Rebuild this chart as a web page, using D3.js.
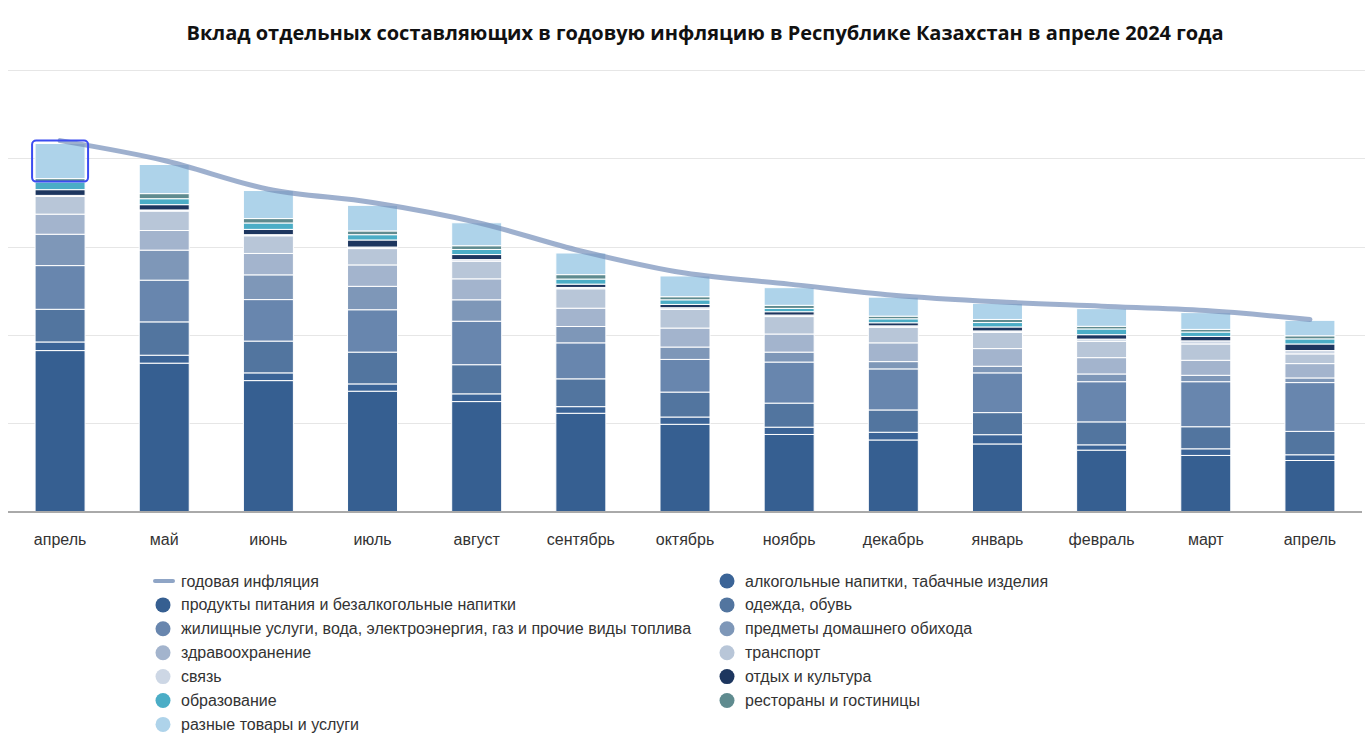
<!DOCTYPE html>
<html><head><meta charset="utf-8">
<script src="https://cdn.jsdelivr.net/npm/d3@7"></script>
<style>body{margin:0;background:#fff;}svg{display:block;}</style>
</head><body>
<svg id="c" width="1367" height="747"></svg>
<script>
const months = ["апрель","май","июнь","июль","август","сентябрь","октябрь","ноябрь","декабрь","январь","февраль","март","апрель "];
const inflation = [16.8,15.9,14.6,14.0,13.1,11.8,10.8,10.3,9.8,9.5,9.3,9.1,8.7];
const yTicks = [0,4,8,12,16,20];

const food        = [7.29,6.72,5.93,5.45,4.98,4.45,3.95,3.49,3.24,3.06,2.78,2.54,2.31];
const alcohol     = [0.39,0.36,0.35,0.33,0.35,0.30,0.33,0.33,0.35,0.42,0.24,0.30,0.26];
const clothing    = [1.48,1.51,1.44,1.44,1.32,1.26,1.13,1.09,1.01,1.00,1.04,1.00,1.06];
const housing     = [1.98,1.89,1.88,1.92,1.97,1.63,1.48,1.86,1.86,1.80,1.82,2.04,2.21];
const household   = [1.42,1.36,1.12,1.06,0.97,0.74,0.56,0.45,0.33,0.30,0.35,0.29,0.21];
const health      = [0.91,0.89,0.97,0.97,0.95,0.83,0.86,0.82,0.85,0.80,0.74,0.68,0.65];
const transport   = [0.80,0.88,0.80,0.74,0.80,0.88,0.85,0.79,0.71,0.74,0.74,0.74,0.44];
const communication=[0.05,0.05,0.05,0.07,0.07,0.06,0.07,0.07,0.06,0.06,0.10,0.14,0.15];
const recreation  = [0.26,0.24,0.24,0.32,0.23,0.15,0.15,0.15,0.14,0.18,0.20,0.20,0.30];
const education   = [0.35,0.27,0.29,0.24,0.23,0.23,0.21,0.15,0.18,0.20,0.26,0.20,0.23];
const restaurants = [0.15,0.23,0.20,0.17,0.17,0.20,0.14,0.14,0.12,0.14,0.12,0.12,0.14];
const misc        = [1.59,1.32,1.27,1.16,1.04,0.98,0.94,0.80,0.86,0.73,0.80,0.76,0.70];

const seriesNames = ["продукты питания и безалкогольные напитки","алкогольные напитки, табачные изделия","одежда, обувь","жилищные услуги, вода, электроэнергия, газ и прочие виды топлива","предметы домашнего обихода","здравоохранение","транспорт","связь","отдых и культура","образование","рестораны и гостиницы","разные товары и услуги"];
const seriesColors = ["#365f91","#3b6497","#52759f","#6886ae","#7e97b8","#a3b4cd","#b8c6d8","#cdd7e5","#1d365f","#4badc6","#5f8b8f","#aed3ea"];
const seriesValues = [food,alcohol,clothing,housing,household,health,transport,communication,recreation,education,restaurants,misc];
const lineName = "годовая инфляция";
const title = "Вклад отдельных составляющих в годовую инфляцию в Республике Казахстан в апреле 2024 года";

const svg = d3.select("#c");
const FONT = "'Liberation Sans', Arial, sans-serif";

const x = d3.scaleBand().domain(months).range([8,1362]).paddingInner(0.52).paddingOuter(0.26);
const y = d3.scaleLinear().domain([0,20]).range([511.5,70]);

// title
svg.append("text").attr("x",705).attr("y",40).attr("text-anchor","middle")
  .attr("font-family","'Open Sans', sans-serif").attr("font-weight",700).attr("font-size",20)
  .attr("fill","#111").text(title);

// gridlines
svg.append("g").selectAll("line").data(yTicks.filter(d=>d>0)).join("line")
  .attr("x1",8).attr("x2",1365).attr("y1",d=>Math.round(y(d))+0.5).attr("y2",d=>Math.round(y(d))+0.5)
  .attr("stroke","#e6e6e6").attr("stroke-width",1);

// stack
const table = months.map((m,i)=>{const o={month:m}; seriesNames.forEach((n,k)=>o[n]=seriesValues[k][i]); return o;});
const stack = d3.stack().keys(seriesNames)(table);

const gBars = svg.append("g");
stack.forEach((layer,k)=>{
  gBars.append("g").attr("fill",seriesColors[k]).selectAll("rect").data(layer).join("rect")
    .attr("x",d=>x(d.data.month)).attr("width",x.bandwidth())
    .attr("y",d=>y(d[1])).attr("height",d=>Math.max(0,y(d[0])-y(d[1])))
    .attr("stroke","#fff").attr("stroke-width",1);
});

// axis baseline
const xAxis = svg.append("g").attr("transform",`translate(0,${y(0)+0.5})`).call(d3.axisBottom(x).tickSize(0).tickPadding(22));
xAxis.select(".domain").attr("stroke","#555").attr("d","M8,0H1362");
xAxis.selectAll("text").attr("font-family",FONT).attr("font-size",16).attr("fill","#333");

// line
const line = d3.line().x((d,i)=>x(months[i])+x.bandwidth()/2).y(d=>y(d)).curve(d3.curveMonotoneX);
svg.append("path").datum(inflation).attr("d",line).attr("fill","none")
  .attr("stroke","#7892bb").attr("stroke-opacity",0.72).attr("stroke-width",5).attr("stroke-linecap","round");

// hover highlight on first bar, top segment
const top0 = stack[stack.length-1][0];
svg.append("rect").attr("x",x(months[0])-3).attr("y",y(top0[1])-3)
  .attr("width",x.bandwidth()+6).attr("height",y(top0[0])-y(top0[1])+6)
  .attr("rx",4).attr("fill","none").attr("stroke","#3b4cf0").attr("stroke-width",2);

// legend
const legendItems = [{name:lineName,type:"line",color:"#8fa5c6"}].concat(seriesNames.map((n,k)=>({name:n,type:"dot",color:seriesColors[k]})));
const leftCol = [0,1,4,6,8,10,12];   // line, food, housing, health, comm, education, misc
const rightCol = [2,3,5,7,9,11];     // alcohol, clothing, household, transport, recreation, restaurants
const lg = svg.append("g").attr("font-family",FONT).attr("font-size",16).attr("fill","#333");
function drawItem(it, sx, ty){
  const g = lg.append("g");
  if(it.type==="line"){
    g.append("line").attr("x1",sx-8).attr("x2",sx+10).attr("y1",ty).attr("y2",ty)
      .attr("stroke",it.color).attr("stroke-width",4).attr("stroke-linecap","round");
  } else {
    g.append("circle").attr("cx",sx).attr("cy",ty).attr("r",7.5).attr("fill",it.color);
  }
  g.append("text").attr("x",sx+18).attr("y",ty+5.5).text(it.name);
}
leftCol.forEach((idx,r)=>drawItem(legendItems[idx],163,581+r*23.9));
rightCol.forEach((idx,r)=>drawItem(legendItems[idx],727,581+r*23.9));
</script>
</body></html>
